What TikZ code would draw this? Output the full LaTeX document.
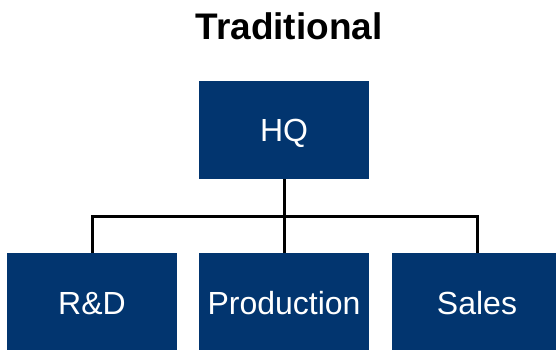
\documentclass[tikz,border=0pt]{standalone}
\usepackage{fontspec}
\setmainfont{Liberation Sans}
\definecolor{navy}{HTML}{02356F}
\tikzset{
  title/.style={font=\fontsize{37}{40}\selectfont\bfseries,text=black,inner sep=0pt},
  unit/.style={fill=navy,text=white,minimum width=170,minimum height=98,inner sep=0pt,
    font=\fontsize{32}{35}\selectfont,text height=23pt,text depth=0pt},
  link/.style={draw=black,line width=3pt}
}
\begin{document}
\begin{tikzpicture}[x=1pt,y=-1pt]
\path[use as bounding box] (0,0) rectangle (556,349);
\clip (0,0) rectangle (556,349);
\node[title] (head) at (289,26) {Traditional};
\node[unit] (hq) at (284,130) {HQ};
\node[unit,minimum height=100] (rd) at (92,303) {R\&D};
\node[unit,minimum height=100] (prod) at (284,303) {Production};
\node[unit,minimum height=100] (sales) at (477,303) {Sales};
\coordinate (bus) at (284,216);
\draw[link] (hq.south) -- (prod.north);
\draw[link] (rd.north) -- (rd.north |- bus) -- (sales.north |- bus) -- (sales.north);
\end{tikzpicture}
\end{document}
